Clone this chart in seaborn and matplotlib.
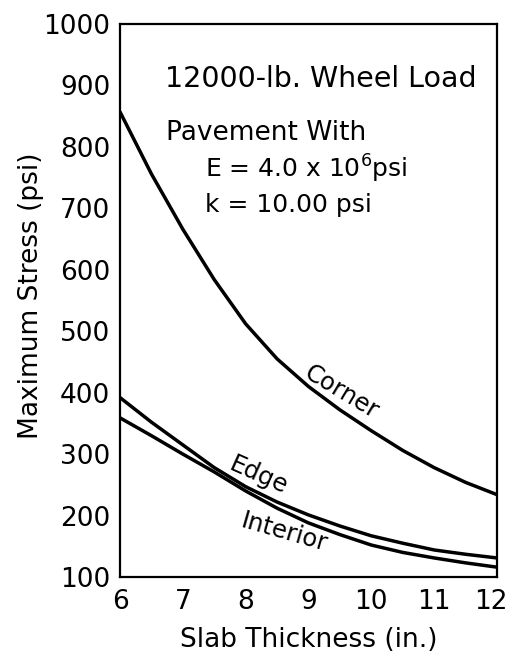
import matplotlib
matplotlib.use("Agg")
import matplotlib.pyplot as plt
import matplotlib.transforms as mtransforms
import seaborn as sns
import pandas as pd

# ---- data ----
thickness = [6, 6.5, 7, 7.5, 8, 8.5, 9, 9.5, 10, 10.5, 11, 11.5, 12]
corner = [857, 756, 666, 584, 512, 455, 410, 372, 338, 306, 278, 254, 234]
edge = [392, 352, 315, 278, 247, 222, 201, 183, 167, 155, 144, 137, 131]
interior = [359, 330, 300, 271, 240, 212, 188, 169, 152, 140, 131, 123, 116]

x_ticks = [6, 7, 8, 9, 10, 11, 12]
x_tick_labels = ["6", "7", "8", "9", "10", "11", "12"]
y_ticks = [100, 200, 300, 400, 500, 600, 700, 800, 900, 1000]
y_tick_labels = ["100", "200", "300", "400", "500", "600", "700", "800", "900", "1000"]

series_names = ["Corner", "Edge", "Interior"]

sns.set_style("white")
plt.rcParams["font.family"] = ["DejaVu Sans"]
plt.rcParams["axes.labelcolor"] = "black"
plt.rcParams["text.color"] = "black"

df = pd.DataFrame({
    "thickness": thickness * 3,
    "stress": corner + edge + interior,
    "case": [series_names[0]] * len(thickness)
    + [series_names[1]] * len(thickness)
    + [series_names[2]] * len(thickness),
})

fig = plt.figure(figsize=(5.1, 6.57), dpi=100)
ax = fig.add_axes([120 / 510, 1 - 577 / 657, (497 - 120) / 510, (577 - 24) / 657])

sns.lineplot(data=df, x="thickness", y="stress", hue="case",
             palette=["black", "black", "black"], linewidth=2.5,
             legend=False, ax=ax)

ax.set_xlim(6, 12)
ax.set_ylim(100, 1000)
ax.set_xticks(x_ticks)
ax.set_xticklabels(x_tick_labels)
ax.set_yticks(y_ticks)
ax.set_yticklabels(y_tick_labels)
ax.tick_params(axis="both", direction="inout", length=11, width=1.6,
               labelsize=19, color="black", labelcolor="black")
ax.tick_params(axis="x", pad=3)
ax.tick_params(axis="y", pad=1.5)
for s in ax.spines.values():
    s.set_linewidth(1.6)
    s.set_color("black")

# keep the last x tick label ("12") inside the figure
last = ax.get_xticklabels()[-1]
last.set_transform(last.get_transform()
                   + mtransforms.ScaledTranslation(-6 / 100, 0, fig.dpi_scale_trans))

ax.set_xlabel("Slab Thickness (in.)", fontsize=19)
ax.xaxis.set_label_coords(0.5, (577 - 627) / 553)
ax.set_ylabel("Maximum Stress (psi)", fontsize=19)
ax.yaxis.set_label_coords((44 - 120) / 377, (577 - 296) / 553)

txt = dict(color="black", va="baseline", ha="left")
ax.text(6.72, 898, "12000-lb. Wheel Load", fontsize=20.5, **txt)
ax.text(6.73, 812, "Pavement With", fontsize=19, **txt)
ax.text(7.35, 750, r"E = 4.0 x 10$^{6}$psi", fontsize=18, **txt)
ax.text(7.35, 694, "k = 10.00 psi", fontsize=18, **txt)

lab = dict(fontsize=17.5, color="black", ha="center", va="center",
           rotation_mode="anchor")
ax.text(9.52, 401, "Corner", rotation=-31, **lab)
ax.text(8.20, 265, "Edge", rotation=-24, **lab)
ax.text(8.61, 173, "Interior", rotation=-16, **lab)

fig.savefig("out.png", dpi=100)
